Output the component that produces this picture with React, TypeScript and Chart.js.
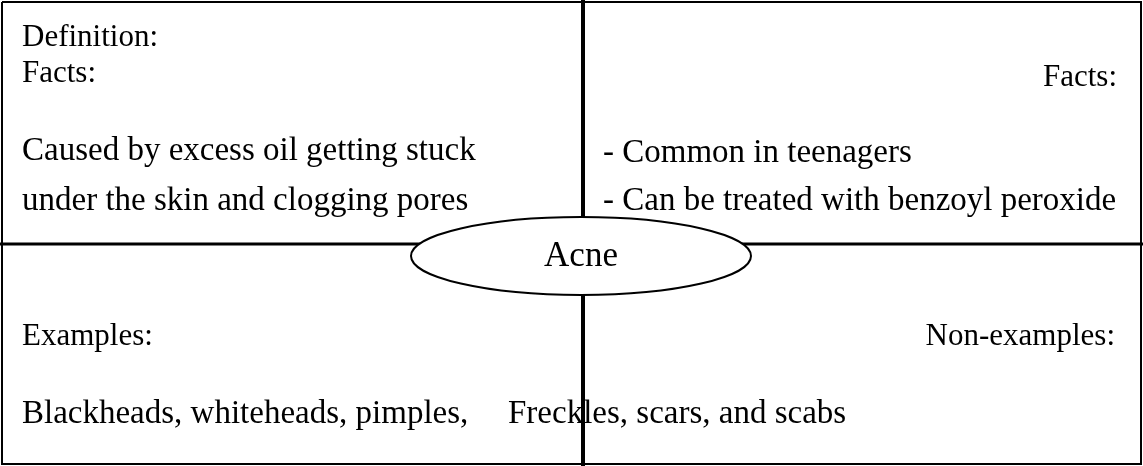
import React, { useEffect, useRef } from "react";
import { Chart, registerables } from "chart.js";
Chart.register(...registerables);

const W = 1143, H = 466;
const frame = [{ x: 2, y: 2 }, { x: 1141, y: 2 }, { x: 1141, y: 464 }, { x: 2, y: 464 }, { x: 2, y: 2 }];
const vLine = [{ x: 583, y: 0 }, { x: 583, y: 466 }];
const hLine = [{ x: 0, y: 244 }, { x: 1143, y: 244 }];
const ellipse = { cx: 581, cy: 256, rx: 170, ry: 39 };
const centerLabel = "Acne";
const headings = [
  { t: "Definition:", x: 22, y: 46, align: "left" },
  { t: "Facts:", x: 22, y: 82, align: "left" },
  { t: "Facts:", x: 1117, y: 86, align: "right" },
  { t: "Examples:", x: 22, y: 345, align: "left" },
  { t: "Non-examples:", x: 1115, y: 345, align: "right" },
];
const notes = [
  { t: "Caused by excess oil getting stuck", x: 22, y: 160 },
  { t: "under the skin and clogging pores", x: 22, y: 210 },
  { t: "- Common in teenagers", x: 603, y: 162 },
  { t: "- Can be treated with benzoyl peroxide", x: 603, y: 210 },
  { t: "Blackheads, whiteheads, pimples,", x: 22, y: 423 },
  { t: "Freckles, scars, and scabs", x: 508, y: 423 },
];

export default function App() {
  const ref = useRef<HTMLCanvasElement>(null);
  useEffect(() => {
    document.body.style.margin = "0";
    const deco = {
      id: "deco",
      afterDatasetsDraw(chart: any) {
        const { ctx, scales } = chart;
        const X = (v: number) => scales.x.getPixelForValue(v);
        const Y = (v: number) => scales.y.getPixelForValue(v);
        ctx.save();
        ctx.beginPath();
        ctx.ellipse(X(ellipse.cx), Y(ellipse.cy), ellipse.rx, ellipse.ry, 0, 0, Math.PI * 2);
        ctx.fillStyle = "#fff"; ctx.fill();
        ctx.lineWidth = 2; ctx.strokeStyle = "#000"; ctx.stroke();
        ctx.fillStyle = "#000";
        ctx.textBaseline = "alphabetic";
        ctx.font = "31px 'Liberation Serif', serif";
        headings.forEach(h => { ctx.textAlign = h.align; ctx.fillText(h.t, X(h.x), Y(h.y)); });
        ctx.font = "33px 'Liberation Serif', serif";
        ctx.textAlign = "left";
        notes.forEach(n => ctx.fillText(n.t, X(n.x), Y(n.y)));
        ctx.font = "35px 'Liberation Serif', serif";
        ctx.textAlign = "center";
        ctx.fillText(centerLabel, X(ellipse.cx), Y(266));
        ctx.restore();
      },
    };
    const ds = (d: any[], w: number) => ({ data: d, showLine: true, borderColor: "#000", borderWidth: w, pointRadius: 0, fill: false });
    const c = new Chart(ref.current!, {
      type: "scatter",
      data: { datasets: [ds(frame, 2), ds(vLine, 4), ds(hLine, 3)] },
      options: {
        animation: false, responsive: false, maintainAspectRatio: false,
        layout: { padding: 0 },
        plugins: { legend: { display: false }, tooltip: { enabled: false } },
        scales: {
          x: { type: "linear", min: 0, max: W, display: false },
          y: { type: "linear", min: 0, max: H, reverse: true, display: false },
        },
      },
      plugins: [deco],
    });
    return () => c.destroy();
  }, []);
  return <div style={{ width: W, height: H, background: "#fff" }}><canvas ref={ref} width={W} height={H} /></div>;
}
